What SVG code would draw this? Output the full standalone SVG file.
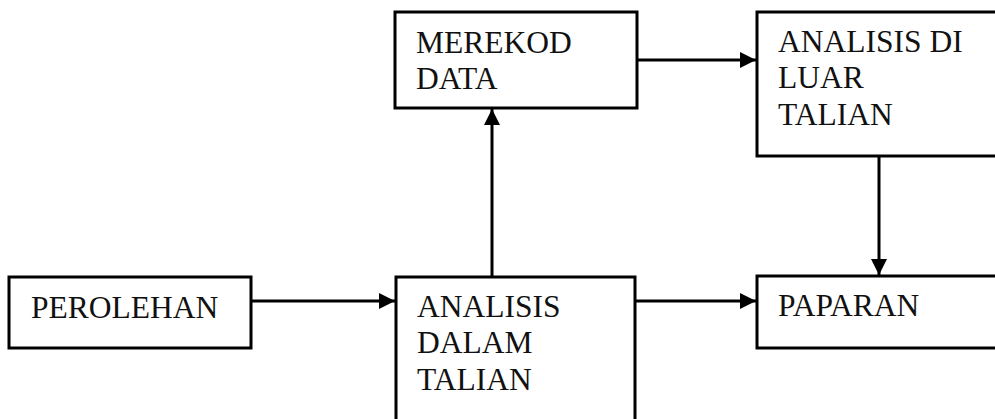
<svg xmlns="http://www.w3.org/2000/svg" width="995" height="419" viewBox="0 0 995 419">
<style>
.box{fill:#fff;stroke:#000;stroke-width:3}
.t{font-family:"Liberation Serif","Times New Roman",serif;font-size:31.5px;fill:#111}
.c{stroke:#000;stroke-width:3;fill:none}
</style>
<defs>
<marker id="ah" markerUnits="userSpaceOnUse" markerWidth="18" markerHeight="18" viewBox="0 0 18 18" refX="17" refY="9" orient="auto">
<path d="M1,1 L17,9 L1,17 Z" fill="#000"/>
</marker>
</defs>
<rect width="995" height="419" fill="#fff"/>
<g id="merekod">
<rect class="box" x="395" y="12" width="242" height="96"/>
<text class="t" x="416" y="53">MEREKOD</text>
<text class="t" x="416" y="89">DATA</text>
</g>
<g id="analisis-luar">
<rect class="box" x="757" y="12" width="250" height="144"/>
<text class="t" x="778" y="52">ANALISIS DI</text>
<text class="t" x="778" y="88">LUAR</text>
<text class="t" x="778" y="125">TALIAN</text>
</g>
<g id="perolehan">
<rect class="box" x="9" y="277" width="242" height="71"/>
<text class="t" x="31" y="318">PEROLEHAN</text>
</g>
<g id="analisis-dalam">
<rect class="box" x="396" y="277" width="239" height="160"/>
<text class="t" x="417" y="317">ANALISIS</text>
<text class="t" x="417" y="353">DALAM</text>
<text class="t" x="417" y="390">TALIAN</text>
</g>
<g id="paparan">
<rect class="box" x="757" y="276" width="250" height="72"/>
<text class="t" x="778" y="316">PAPARAN</text>
</g>
<g id="connectors">
<line class="c" x1="637" y1="60" x2="756" y2="60" marker-end="url(#ah)"/>
<line class="c" x1="879" y1="156" x2="879" y2="275" marker-end="url(#ah)"/>
<line class="c" x1="251" y1="301" x2="395" y2="301" marker-end="url(#ah)"/>
<line class="c" x1="492" y1="277" x2="492" y2="109" marker-end="url(#ah)"/>
<line class="c" x1="635" y1="301" x2="756" y2="301" marker-end="url(#ah)"/>
</g>
</svg>
